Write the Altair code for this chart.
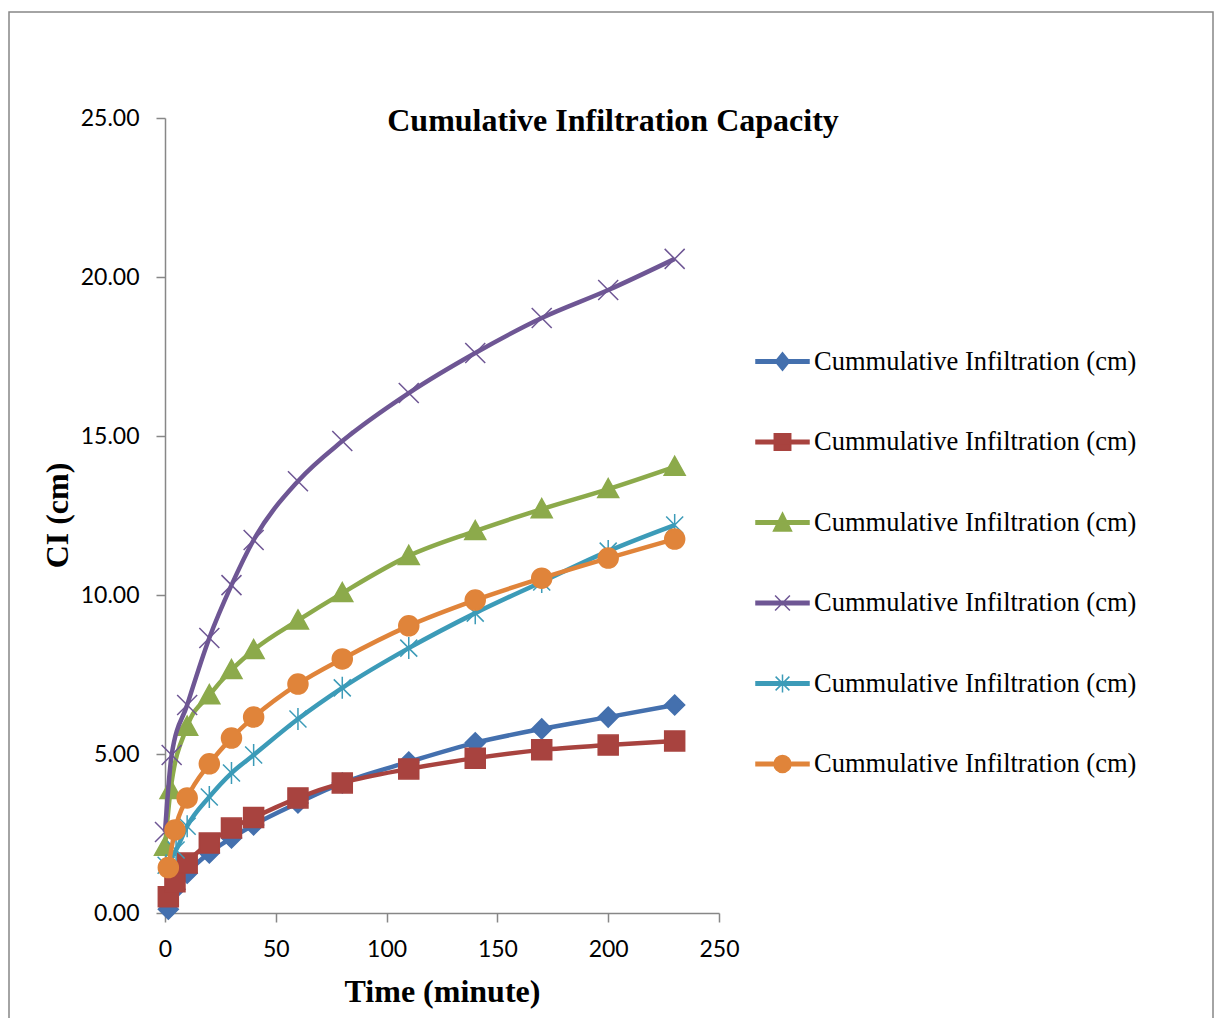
import altair as alt
import pandas as pd

# ---- data ----
KEYS = ["s1", "s2", "s3", "s4", "s5", "s6"]
LABEL = "Cummulative Infiltration (cm)"
COLORS = ["#4470AE", "#A8433F", "#8CAA4B", "#6E5694", "#3C9BB8", "#E0843A"]

T_LATE = [10, 20, 30, 40, 60, 80, 110, 140, 170, 200, 230]

blue_t = [1.5, 4.5] + T_LATE
blue_v = [0.12, 0.75, 1.25, 1.89, 2.36, 2.77, 3.46, 4.09, 4.75, 5.35, 5.79, 6.16, 6.54]

red_t = [1.5, 4.5] + T_LATE
red_v = [0.51, 0.98, 1.57, 2.20, 2.67, 3.00, 3.62, 4.09, 4.53, 4.87, 5.13, 5.28, 5.41]

green_t = [0, 2.5] + T_LATE
green_v = [2.08, 3.87, 5.86, 6.85, 7.64, 8.27, 9.20, 10.06, 11.23, 12.01, 12.70, 13.33, 14.03]

purple_t = [0, 3] + T_LATE
purple_v = [2.55, 4.97, 6.54, 8.65, 10.31, 11.73, 13.58, 14.84, 16.35, 17.61, 18.71, 19.59, 20.57]

cyan_t = [0.5, 5] + T_LATE
cyan_v = [1.50, 1.98, 2.73, 3.65, 4.40, 4.97, 6.10, 7.08, 8.33, 9.43, 10.41, 11.38, 12.20]

orange_t = [1.5, 4.5] + T_LATE
orange_v = [1.43, 2.61, 3.62, 4.69, 5.50, 6.16, 7.20, 7.99, 9.03, 9.84, 10.53, 11.16, 11.76]

SERIES_T = [blue_t, red_t, green_t, purple_t, cyan_t, orange_t]
SERIES_V = [blue_v, red_v, green_v, purple_v, cyan_v, orange_v]

X_TICKS = [0, 50, 100, 150, 200, 250]
Y_TICKS = [0, 5, 10, 15, 20, 25]

rows = []
for k, ts, vs in zip(KEYS, SERIES_T, SERIES_V):
    for t, v in zip(ts, vs):
        rows.append({"time": t, "ci": v, "key": k})
df = pd.DataFrame(rows)

# ---- marker shapes ----
MARKERS = [
    "M0,-1 L1,0 L0,1 L-1,0 Z",                                   # diamond
    "M-1,-1 L1,-1 L1,1 L-1,1 Z",                                 # square
    "M0,-1.05 L1.05,0.85 L-1.05,0.85 Z",                         # triangle
    "M-1,-1 L1,1 M-1,1 L1,-1",                                   # x
    "M-0.85,-0.85 L0.85,0.85 M-0.85,0.85 L0.85,-0.85 M0,-1.1 L0,1.1",  # star
    "M1,0 A1,1 0 1,1 -1,0 A1,1 0 1,1 1,0 Z",                     # circle
]
BAR = "M-1,-0.065 L1,-0.065 L1,0.065 L-1,0.065 Z "
LEGEND_SHAPES = [
    BAR + "M0,-0.33 L0.27,0 L0,0.33 L-0.27,0 Z",
    BAR + "M-0.31,-0.31 L0.31,-0.31 L0.31,0.31 L-0.31,0.31 Z",
    BAR + "M0,-0.36 L0.34,0.32 L-0.34,0.32 Z",
    BAR + "M-0.28,-0.28 L0.28,0.28 M-0.28,0.28 L0.28,-0.28",
    BAR + "M-0.26,-0.26 L0.26,0.26 M-0.26,0.26 L0.26,-0.26 M0,-0.34 L0,0.34",
    BAR + "M0.32,0 A0.32,0.32 0 1,1 -0.32,0 A0.32,0.32 0 1,1 0.32,0 Z",
]

W, H = 554, 795
AXIS_GRAY = "#878787"

x_enc = alt.X(
    "time:Q",
    scale=alt.Scale(domain=[0, 250], nice=False, zero=True),
    axis=alt.Axis(
        values=X_TICKS, format="d", grid=False, labelFlush=False,
        labelFont="Lato", labelFontSize=23, labelColor="black",
        labelBaseline="alphabetic", labelPadding=34,
        tickSize=9, tickColor=AXIS_GRAY, tickWidth=1.5,
        domainColor=AXIS_GRAY, domainWidth=1.5,
        title="Time (minute)", titleFont="Liberation Serif", titleFontSize=32,
        titleFontWeight="bold", titleColor="black",
        titleX=277, titleY=88, titleBaseline="alphabetic", titleAlign="center",
    ),
)
y_enc = alt.Y(
    "ci:Q",
    scale=alt.Scale(domain=[0, 25], nice=False),
    axis=alt.Axis(
        values=Y_TICKS, format=".2f", grid=False, labelFlush=False,
        labelFont="Lato", labelFontSize=23, labelColor="black",
        labelPadding=17,
        tickSize=9, tickColor=AXIS_GRAY, tickWidth=1.5,
        domainColor=AXIS_GRAY, domainWidth=1.5,
        title="CI (cm)", titleFont="Liberation Serif", titleFontSize=32,
        titleFontWeight="bold", titleColor="black",
        titleAngle=270, titleX=-98, titleY=397,
        titleBaseline="alphabetic", titleAlign="center",
    ),
)

base = alt.Chart(df)

frame = alt.Chart(alt.Data(values=[{}])).mark_rect(
    fillOpacity=0, stroke=AXIS_GRAY, strokeWidth=1.5
).encode(x=alt.value(-156), x2=alt.value(1048), y=alt.value(-106), y2=alt.value(960))

series_layers = []
for k, c, m in zip(KEYS, COLORS, MARKERS):
    sub = base.transform_filter(alt.datum.key == k)
    series_layers.append(
        sub.mark_line(interpolate="monotone", strokeWidth=4.5, color=c)
        .encode(x=x_enc, y=y_enc, order="time:Q")
    )
    series_layers.append(
        sub.mark_point(shape=m, filled=True, fill=c, stroke=c, strokeWidth=1.5,
                       size=400, opacity=1)
        .encode(x=x_enc, y=y_enc)
    )

leg = alt.Legend(
    title=None, orient="none", legendX=590, legendY=216,
    labelExpr="'" + LABEL + "'",
    labelFont="Liberation Serif", labelFontSize=26.5, labelColor="black",
    labelLimit=600, labelOffset=4,
    symbolSize=53 * 53, symbolStrokeWidth=1.5, symbolOpacity=1,
    rowPadding=39.5, padding=0,
)
legend_layer = base.transform_filter("false").mark_point(
    filled=True, strokeWidth=1.5, opacity=1
).encode(
    x=x_enc, y=y_enc,
    fill=alt.Fill("key:N", scale=alt.Scale(domain=KEYS, range=COLORS), legend=leg),
    stroke=alt.Stroke("key:N", scale=alt.Scale(domain=KEYS, range=COLORS), legend=leg),
    shape=alt.Shape("key:N", scale=alt.Scale(domain=KEYS, range=LEGEND_SHAPES), legend=leg),
)

title = alt.Chart(alt.Data(values=[{}])).mark_text(
    font="Liberation Serif", fontSize=32, fontWeight="bold", color="black",
    align="center", baseline="alphabetic",
).encode(text=alt.value("Cumulative Infiltration Capacity"), x=alt.value(448), y=alt.value(13))

chart = alt.layer(frame, *series_layers, legend_layer, title).properties(
    width=W, height=H,
    autosize=alt.AutoSizeParams(type="none"),
    padding={"left": 157, "top": 110, "right": 495, "bottom": 105},
    background="white",
).configure_view(strokeWidth=0)

chart.save("out.html", embed_options={"renderer": "svg", "actions": False})
